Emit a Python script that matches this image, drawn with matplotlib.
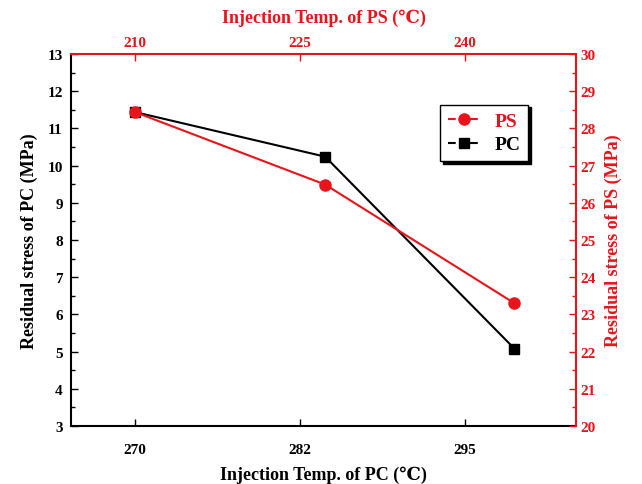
import matplotlib
matplotlib.use("Agg")
import matplotlib.pyplot as plt
from matplotlib.ticker import MultipleLocator

# data
ps_temp = [210, 227.3, 244.5]          # position on the (evenly spaced) temperature scale
pc_stress = [11.44, 10.24, 5.08]       # MPa, left axis
ps_stress = [28.44, 26.49, 23.30]      # MPa, right axis
tick_pos = [210, 225, 240]
pc_tick_labels = ['270', '282', '295']
ps_tick_labels = ['210', '225', '240']

plt.rcParams['font.family'] = ['Liberation Serif', 'DejaVu Serif']
plt.rcParams['font.weight'] = 'bold'

red = '#e8141b'

fig = plt.figure(figsize=(6.42, 4.85), dpi=100)
ax = fig.add_axes([0.1106, 0.1196, 0.7866, 0.767])
ax2 = ax.twinx()
ax3 = ax.twiny()

l_pc, = ax.plot(ps_temp, pc_stress, '-s', color='black', lw=1.5, ms=7, label='PC')
l_ps, = ax2.plot(ps_temp, ps_stress, '-o', color=red, lw=1.5, ms=8, label='PS')

ax.set_xlim(204.2, 250.1)
ax3.set_xlim(204.2, 250.1)
ax.set_ylim(3, 13)
ax2.set_ylim(20, 30)

ax.set_xticks(tick_pos)
ax.set_xticklabels(pc_tick_labels)
ax3.set_xticks(tick_pos)
ax3.set_xticklabels(ps_tick_labels)

ax.yaxis.set_major_locator(MultipleLocator(1))
ax.yaxis.set_minor_locator(MultipleLocator(0.5))
ax2.yaxis.set_major_locator(MultipleLocator(1))
ax2.yaxis.set_minor_locator(MultipleLocator(0.5))

ax.tick_params(axis='both', direction='in', length=5, width=1, labelsize=11, pad=6)
ax.tick_params(axis='y', which='minor', direction='in', length=3, width=1)
ax.tick_params(axis='x', pad=12)
ax2.tick_params(axis='y', which='both', direction='in', colors=red, labelsize=11, width=1)
ax2.tick_params(axis='y', which='major', length=5)
ax2.tick_params(axis='y', which='minor', length=3)
ax3.tick_params(axis='x', direction='in', colors=red, length=5, width=1, labelsize=11)

# each axes draws only its own spines
for name in ('top', 'right'):
    ax.spines[name].set_visible(False)
for name in ('top', 'left', 'bottom'):
    ax2.spines[name].set_visible(False)
for name in ('right', 'left', 'bottom'):
    ax3.spines[name].set_visible(False)
ax.spines['left'].set_linewidth(1.5)
ax.spines['bottom'].set_linewidth(1.5)
ax2.spines['right'].set_color(red)
ax2.spines['right'].set_linewidth(1.5)
ax3.spines['top'].set_color(red)
ax3.spines['top'].set_linewidth(1.5)

ax.set_xlabel('Injection Temp. of PC (\u2103)', fontsize=13, fontweight='bold', labelpad=7)
ax.set_ylabel('Residual stress of PC (MPa)', fontsize=13, fontweight='bold', labelpad=7)
ax2.set_ylabel('Residual stress of PS (MPa)', fontsize=13, fontweight='bold', color=red, labelpad=6)
ax3.set_xlabel('Injection Temp. of PS (\u2103)', fontsize=13, fontweight='bold', color=red, labelpad=10)

leg = ax3.legend([l_ps, l_pc], ['PS', 'PC'], loc='upper right', bbox_to_anchor=(0.925, 0.89),
                 fancybox=False, shadow={'color': 'black', 'alpha': 1}, edgecolor='black',
                 fontsize=14, handlelength=1.6, borderpad=0.4, labelspacing=0.3)
leg.get_frame().set_linewidth(1)
leg.get_texts()[0].set_color(red)
for h in leg.legend_handles:
    h.set_linestyle('--')

fig.savefig('out.png', dpi=100)
